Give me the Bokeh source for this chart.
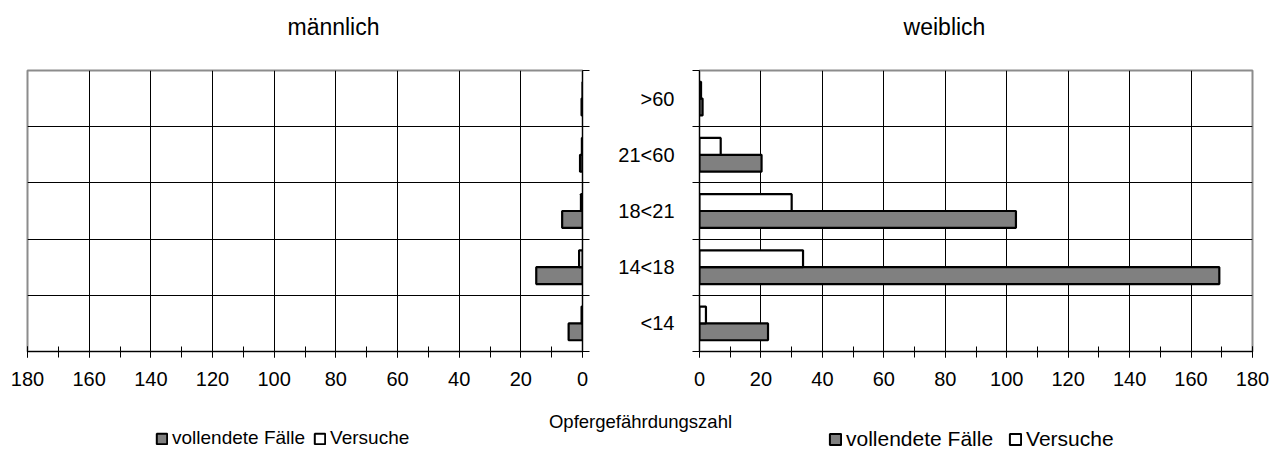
from bokeh.plotting import figure
from bokeh.layouts import column, row
from bokeh.models import ColumnDataSource, FixedTicker, Range1d, Label, Legend, LegendItem
from bokeh.transform import dodge
from bokeh.embed import file_html
from bokeh.resources import INLINE

# Opfergefährdungszahl by age group of the victim
age_groups = ["<14", "14<18", "18<21", "21<60", ">60"]
value_ticks = [0, 20, 40, 60, 80, 100, 120, 140, 160, 180]
minor_value_ticks = [10, 30, 50, 70, 90, 110, 130, 150, 170]
male_completed = [4.5, 15.0, 6.6, 0.8, 0.3]
male_attempted = [0.3, 1.1, 0.5, 0.2, 0.0]
female_completed = [22.3, 169.2, 103.0, 20.2, 1.0]
female_attempted = [2.1, 33.7, 30.0, 6.9, 0.5]

FONT = "Liberation Sans"
GREY = "#808080"
FRAME_GREY = "#8c8c8c"
HEAD_H = 65
PANEL_H = 335
FOOT_H = 53
BAR_H = 0.3

row_centres = [i + 0.5 for i in range(len(age_groups))]
row_edges = list(range(len(age_groups) + 1))


def text_strip(height):
    s = figure(width=1285, height=height, x_range=Range1d(0, 1285), y_range=Range1d(height, 0),
               output_backend="svg", toolbar_location=None, min_border=0,
               x_axis_type=None, y_axis_type=None)
    s.outline_line_color = None
    s.grid.visible = False
    s.background_fill_color = "white"
    s.border_fill_color = "white"
    return s


def make_panel(completed, attempted, x_range, y_side, width, b_left, b_right, labelled):
    src = ColumnDataSource(dict(row=row_centres, completed=completed, attempted=attempted))
    p = figure(width=width, height=PANEL_H, x_range=x_range,
               y_range=Range1d(0, len(age_groups)), y_axis_location=y_side,
               output_backend="svg", toolbar_location=None,
               min_border_left=b_left, min_border_right=b_right,
               min_border_top=5, min_border_bottom=49)
    p.background_fill_color = "white"
    p.border_fill_color = "white"
    p.outline_line_color = FRAME_GREY
    p.outline_line_width = 2

    # grid: vertical lines at every 20, horizontal lines between age groups
    p.xgrid.ticker = FixedTicker(ticks=value_ticks[1:-1])
    p.ygrid.ticker = FixedTicker(ticks=row_edges[1:-1])
    p.grid.grid_line_color = "black"
    p.grid.grid_line_width = 1

    # bars: attempts above, completed cases below within each age group
    p.hbar(y=dodge("row", -BAR_H / 2, range=p.y_range), left=0, right="completed",
           height=BAR_H, source=src, fill_color=GREY, line_color="black", line_width=2.2)
    p.hbar(y=dodge("row", BAR_H / 2, range=p.y_range), left=0, right="attempted",
           height=BAR_H, source=src, fill_color="white", line_color="black", line_width=2.2)

    xa = p.xaxis[0]
    xa.ticker = FixedTicker(ticks=value_ticks, minor_ticks=value_ticks + minor_value_ticks)
    xa.axis_line_color = "black"
    xa.axis_line_width = 1
    xa.major_tick_in = 5
    xa.major_tick_out = 6
    xa.minor_tick_in = 5
    xa.minor_tick_out = 6
    xa.major_tick_line_color = "black"
    xa.minor_tick_line_color = "black"
    xa.major_label_standoff = 14
    xa.major_label_text_font = FONT
    xa.major_label_text_font_size = "20px"
    xa.major_label_text_color = "black"

    ya = p.yaxis[0]
    ya.ticker = FixedTicker(ticks=row_centres, minor_ticks=row_edges)
    ya.axis_line_color = "black"
    ya.axis_line_width = 1
    ya.major_tick_in = 0
    ya.major_tick_out = 0
    ya.minor_tick_in = 0
    ya.minor_tick_out = 7
    ya.minor_tick_line_color = "black"
    ya.major_label_standoff = 18
    ya.major_label_text_font = FONT
    ya.major_label_text_font_size = "20px" if labelled else "0px"
    ya.major_label_text_color = "black"
    ya.major_label_overrides = {c: (g if labelled else "") for c, g in zip(row_centres, age_groups)}
    return p


left = make_panel(male_completed, male_attempted, Range1d(180, 0), "right", 615, 27, 33, False)
right = make_panel(female_completed, female_attempted, Range1d(0, 180), "left", 670, 82, 33, True)

# panel headings
head = text_strip(HEAD_H)
for x, txt in [(333, "männlich"), (944, "weiblich")]:
    head.add_layout(Label(x=x, y=26.5, text=txt, text_align="center",
                          text_baseline="alphabetic", text_font=FONT,
                          text_font_size="23px", text_color="black"))

# shared value-axis title and the two legends
foot = text_strip(FOOT_H)
foot.add_layout(Label(x=640, y=21, text="Opfergefährdungszahl", text_align="center",
                      text_baseline="middle", text_font=FONT, text_font_size="18.5px",
                      text_color="black"))

# legend swatches reuse the bar styles; their single row has no position, so only the key shows
nan = float("nan")
swatch = ColumnDataSource(dict(y=[nan], left=[nan], right=[nan]))


def add_legend(x, y, font_size, box, gap):
    done = foot.hbar(y="y", left="left", right="right", height=1, source=swatch,
                     fill_color=GREY, line_color="black", line_width=2)
    tried = foot.hbar(y="y", left="left", right="right", height=1, source=swatch,
                      fill_color="white", line_color="black", line_width=2)
    leg = Legend(items=[LegendItem(label="vollendete Fälle", renderers=[done]),
                        LegendItem(label="Versuche", renderers=[tried])],
                 location=(x, y), orientation="horizontal",
                 glyph_width=box, glyph_height=box, label_standoff=4, spacing=gap,
                 padding=0, margin=0, border_line_color=None, background_fill_alpha=0,
                 label_text_font=FONT, label_text_font_size=font_size,
                 label_text_color="black", label_height=box)
    foot.add_layout(leg)


add_legend(155, 4, "19px", 13, 8)
add_legend(828, 2, "21px", 14, 15)

layout = column(head, row(left, right, spacing=0), foot, spacing=0)

open("out.html", "w", encoding="utf-8").write(file_html(layout, INLINE))
